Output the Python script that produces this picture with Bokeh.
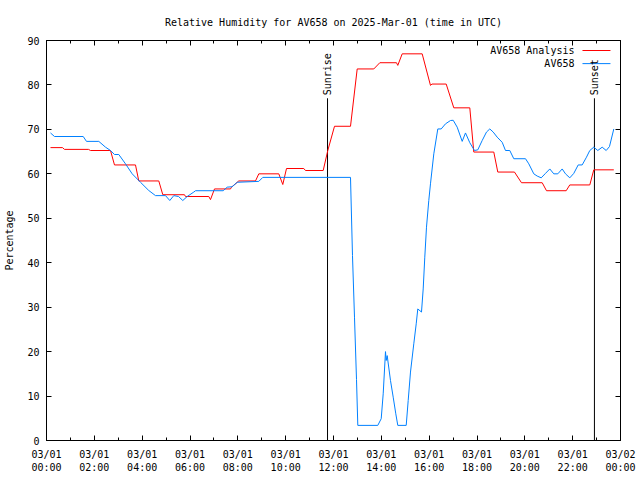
import math
from bokeh.plotting import figure
from bokeh.models import (Range1d, FixedTicker, LinearAxis, Label)
from bokeh.embed import file_html
from bokeh.resources import INLINE

TITLE = "Relative Humidity for AV658 on 2025-Mar-01 (time in UTC)"

# Analysis series (hours since 2025-03-01 00:00 UTC, relative humidity %)
analysis_hours = [0.167, 0.669, 0.753, 1.756, 1.840, 2.676, 2.843, 3.721, 3.859, 4.695,
                  4.863, 5.770, 5.812, 6.786, 6.857, 7.024, 7.693, 7.735, 8.040, 8.739,
                  8.877, 9.713, 9.880, 10.035, 10.758, 10.829, 11.569, 11.761, 12.042, 12.711,
                  12.991, 13.685, 13.936, 14.634, 14.688, 14.872, 15.708, 16.055, 16.118, 16.712,
                  17.030, 17.699, 17.866, 18.702, 18.869, 19.567, 19.860, 20.726, 20.906, 21.729,
                  21.879, 22.716, 22.883, 23.720]
analysis_rh = [65.9, 65.9, 65.5, 65.5, 65.25, 65.25, 62.0, 62.0, 58.4, 58.4,
               55.3, 55.3, 54.9, 54.9, 54.2, 56.6, 56.6, 57.0, 58.4, 58.4,
               60.0, 60.0, 57.6, 61.2, 61.2, 60.75, 60.75, 65.25, 70.7, 70.7,
               83.6, 83.6, 85.0, 85.0, 84.4, 87.0, 87.0, 79.9, 80.2, 80.2,
               74.85, 74.85, 64.9, 64.9, 60.4, 60.4, 58.0, 58.0, 56.2, 56.2,
               57.5, 57.5, 60.9, 60.9]

# Observed series
obs_hours = [0.167, 0.334, 1.535, 1.672, 2.187, 2.467, 2.676, 2.843, 3.023, 3.303,
             3.583, 3.930, 4.277, 4.557, 4.976, 5.155, 5.323, 5.519, 5.699, 5.883,
             6.159, 6.230, 7.388, 7.555, 7.764, 7.974, 8.877, 9.044, 12.711, 12.794,
             12.878, 12.962, 13.016, 13.852, 13.995, 14.078, 14.174, 14.203, 14.245, 14.383,
             14.496, 14.605, 14.688, 15.040, 15.123, 15.219, 15.357, 15.458, 15.524, 15.679,
             15.750, 15.817, 15.888, 15.984, 16.055, 16.194, 16.361, 16.503, 16.683, 16.892,
             17.005, 17.172, 17.381, 17.519, 17.699, 17.895, 18.033, 18.217, 18.397, 18.535,
             18.677, 18.844, 19.053, 19.191, 19.371, 19.538, 20.028, 20.166, 20.375, 20.517,
             20.684, 20.864, 21.044, 21.211, 21.378, 21.562, 21.700, 21.880, 22.047, 22.231,
             22.398, 22.578, 22.716, 22.883, 23.050, 23.234, 23.402, 23.540, 23.720]
obs_rh = [69.2, 68.4, 68.4, 67.3, 67.3, 66.0, 65.25, 64.35, 64.35, 62.25,
          60.0, 58.1, 56.25, 55.1, 55.1, 54.0, 55.1, 54.9, 54.0, 54.9,
          55.9, 56.2, 56.2, 57.0, 57.1, 58.1, 58.3, 59.2, 59.2, 41.6,
          27.75, 13.7, 3.4, 3.4, 4.9, 10.5, 20.0, 18.0, 19.1, 13.5,
          9.75, 6.0, 3.4, 3.4, 9.0, 15.4, 21.75, 26.25, 29.6, 28.9,
          34.1, 41.25, 48.0, 54.0, 57.75, 64.5, 70.1, 70.1, 71.25, 72.0,
          72.05, 70.5, 67.3, 69.2, 67.0, 65.25, 65.4, 67.5, 69.4, 70.1,
          69.4, 68.25, 67.1, 65.25, 65.25, 63.4, 63.4, 62.25, 60.0, 59.5,
          59.1, 60.1, 61.1, 60.0, 60.0, 61.1, 60.0, 59.1, 60.1, 62.0,
          62.0, 63.75, 65.25, 66.0, 65.25, 66.0, 65.25, 66.15, 70.1]

SUNRISE_H = 11.75
SUNSET_H = 22.91

x_tick_hours = [0, 2, 4, 6, 8, 10, 12, 14, 16, 18, 20, 22, 24]
x_tick_labels = ["03/01\n00:00", "03/01\n02:00", "03/01\n04:00", "03/01\n06:00",
                 "03/01\n08:00", "03/01\n10:00", "03/01\n12:00", "03/01\n14:00",
                 "03/01\n16:00", "03/01\n18:00", "03/01\n20:00", "03/01\n22:00",
                 "03/02\n00:00"]
x_minor_hours = [1, 3, 5, 7, 9, 11, 13, 15, 17, 19, 21, 23]
y_ticks = [0, 10, 20, 30, 40, 50, 60, 70, 80, 90]

SERIES_NAMES = ["AV658 Analysis", "AV658"]

FONT = "DejaVu Sans Mono"
FS = "10px"
RED = "#ff0000"
BLUE = "#0080ff"

p = figure(width=640, height=480, output_backend="svg", toolbar_location=None,
           x_range=Range1d(0, 24), y_range=Range1d(0, 90),
           min_border_left=46, min_border_right=20, min_border_top=40,
           min_border_bottom=40, x_axis_type=None, y_axis_type=None)
p.background_fill_color = "white"
p.border_fill_color = "white"
p.outline_line_color = "black"
p.outline_line_width = 1
p.grid.visible = False

p.title.text = TITLE
p.title.text_font = FONT
p.title.text_font_size = FS
p.title.text_font_style = "normal"
p.title.text_color = "black"
p.title.align = "center"
p.title.standoff = 25

xt = FixedTicker(ticks=x_tick_hours, minor_ticks=x_minor_hours)
yt = FixedTicker(ticks=y_ticks, minor_ticks=[])


def style_axis(ax):
    ax.axis_line_color = "black"
    ax.major_tick_in = 5
    ax.major_tick_out = 0
    ax.minor_tick_in = 3
    ax.minor_tick_out = 0
    ax.major_tick_line_color = "black"
    ax.minor_tick_line_color = "black"
    ax.major_label_text_font = FONT
    ax.major_label_text_font_size = FS
    ax.major_label_text_color = "black"
    ax.axis_label_text_font = FONT
    ax.axis_label_text_font_size = FS
    ax.axis_label_text_font_style = "normal"
    ax.axis_label_text_color = "black"


xb = LinearAxis(ticker=xt)
style_axis(xb)
xb.major_label_overrides = {h: lab for h, lab in zip(x_tick_hours, x_tick_labels)}
xb.major_label_standoff = 8
p.add_layout(xb, "below")

xa = LinearAxis(ticker=xt)
style_axis(xa)
xa.major_label_overrides = {h: "" for h in x_tick_hours}
xa.major_label_standoff = 0
p.add_layout(xa, "above")

yl = LinearAxis(ticker=yt, axis_label="Percentage")
style_axis(yl)
yl.major_label_standoff = 7
yl.axis_label_standoff = 9
p.add_layout(yl, "left")

yr = LinearAxis(ticker=yt)
style_axis(yr)
yr.major_label_overrides = {v: "" for v in y_ticks}
yr.major_label_standoff = 0
p.add_layout(yr, "right")

# Sun lines
SUN_TOP = 77.0
for h, name in [(SUNRISE_H, "Sunrise"), (SUNSET_H, "Sunset")]:
    p.segment(x0=[h], y0=[0], x1=[h], y1=[SUN_TOP], line_color="black", line_width=1)
    p.add_layout(Label(x=h, y=SUN_TOP, y_offset=3, text=name, angle=math.pi / 2,
                       text_align="left", text_baseline="middle",
                       text_font=FONT, text_font_size=FS, text_color="black"))

p.line(analysis_hours, analysis_rh, line_color=RED, line_width=1)
p.line(obs_hours, obs_rh, line_color=BLUE, line_width=1)

# Manual key (text left of sample, like the reference)
KEY_X0, KEY_X1 = 22.41, 23.58
KEY_Y = [87.75, 84.8]
for name, col, ky in zip(SERIES_NAMES, [RED, BLUE], KEY_Y):
    p.segment(x0=[KEY_X0], y0=[ky], x1=[KEY_X1], y1=[ky], line_color=col, line_width=1)
    p.add_layout(Label(x=KEY_X0, y=ky, x_offset=-8, text=name, text_align="right",
                       text_baseline="middle", text_font=FONT, text_font_size=FS,
                       text_color="black"))

open("out.html", "w").write(file_html(p, INLINE))
